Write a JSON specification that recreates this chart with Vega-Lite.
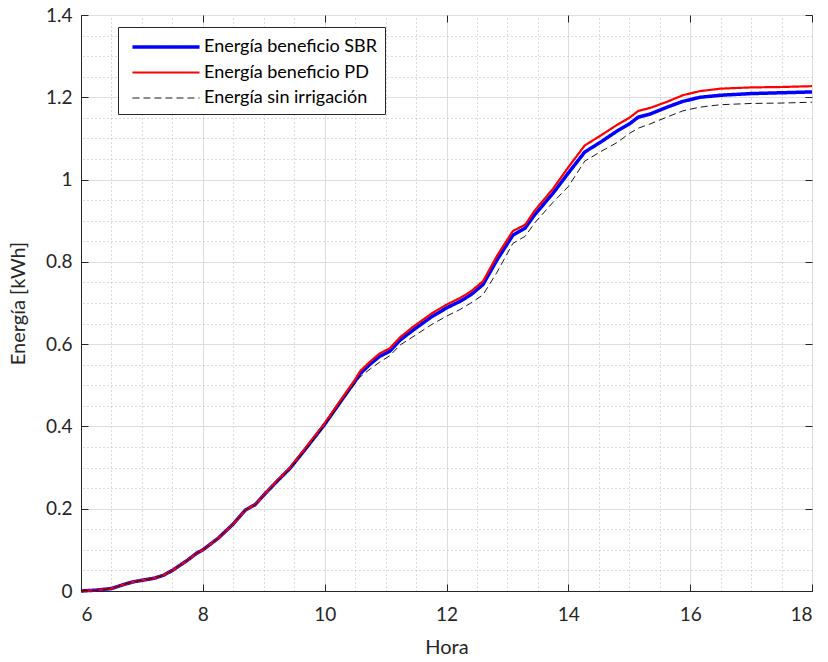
{
  "$schema": "https://vega.github.io/schema/vega-lite/v6.json",
  "autosize": {"type": "none"},
  "width": 731,
  "height": 576,
  "padding": {"left": 81, "top": 15, "right": 16, "bottom": 71},
  "background": "white",
  "config": {
    "font": "Lato",
    "view": {"stroke": "#262626", "strokeWidth": 1},
    "axis": {"labelFont": "Lato", "titleFont": "Lato", "labelColor": "#262626", "titleColor": "#262626", "domainColor": "#262626", "tickColor": "#262626", "labelFontSize": 19, "titleFontSize": 20, "titleFontWeight": "normal"}
  },
  "data": {"values": [
    {"h": 6.0, "Energía beneficio SBR": 0.0, "Energía beneficio PD": 0.0, "Energía sin irrigación": 0.0},
    {"h": 6.25, "Energía beneficio SBR": 0.002, "Energía beneficio PD": 0.002, "Energía sin irrigación": 0.002},
    {"h": 6.5, "Energía beneficio SBR": 0.006, "Energía beneficio PD": 0.006, "Energía sin irrigación": 0.006},
    {"h": 6.75, "Energía beneficio SBR": 0.018, "Energía beneficio PD": 0.018, "Energía sin irrigación": 0.018},
    {"h": 6.85, "Energía beneficio SBR": 0.022, "Energía beneficio PD": 0.022, "Energía sin irrigación": 0.022},
    {"h": 7.0, "Energía beneficio SBR": 0.026, "Energía beneficio PD": 0.026, "Energía sin irrigación": 0.026},
    {"h": 7.2, "Energía beneficio SBR": 0.031, "Energía beneficio PD": 0.031, "Energía sin irrigación": 0.031},
    {"h": 7.35, "Energía beneficio SBR": 0.038, "Energía beneficio PD": 0.038, "Energía sin irrigación": 0.038},
    {"h": 7.5, "Energía beneficio SBR": 0.05, "Energía beneficio PD": 0.05, "Energía sin irrigación": 0.05},
    {"h": 7.75, "Energía beneficio SBR": 0.075, "Energía beneficio PD": 0.075, "Energía sin irrigación": 0.075},
    {"h": 7.9, "Energía beneficio SBR": 0.092, "Energía beneficio PD": 0.092, "Energía sin irrigación": 0.092},
    {"h": 8.0, "Energía beneficio SBR": 0.1, "Energía beneficio PD": 0.1, "Energía sin irrigación": 0.1},
    {"h": 8.25, "Energía beneficio SBR": 0.128, "Energía beneficio PD": 0.128, "Energía sin irrigación": 0.128},
    {"h": 8.5, "Energía beneficio SBR": 0.163, "Energía beneficio PD": 0.163, "Energía sin irrigación": 0.163},
    {"h": 8.7, "Energía beneficio SBR": 0.197, "Energía beneficio PD": 0.197, "Energía sin irrigación": 0.197},
    {"h": 8.86, "Energía beneficio SBR": 0.21, "Energía beneficio PD": 0.21, "Energía sin irrigación": 0.209},
    {"h": 9.0, "Energía beneficio SBR": 0.233, "Energía beneficio PD": 0.233, "Energía sin irrigación": 0.232},
    {"h": 9.2, "Energía beneficio SBR": 0.264, "Energía beneficio PD": 0.265, "Energía sin irrigación": 0.263},
    {"h": 9.43, "Energía beneficio SBR": 0.298, "Energía beneficio PD": 0.299, "Energía sin irrigación": 0.297},
    {"h": 9.7, "Energía beneficio SBR": 0.348, "Energía beneficio PD": 0.35, "Energía sin irrigación": 0.346},
    {"h": 10.0, "Energía beneficio SBR": 0.405, "Energía beneficio PD": 0.407, "Energía sin irrigación": 0.403},
    {"h": 10.25, "Energía beneficio SBR": 0.458, "Energía beneficio PD": 0.461, "Energía sin irrigación": 0.455},
    {"h": 10.5, "Energía beneficio SBR": 0.51, "Energía beneficio PD": 0.514, "Energía sin irrigación": 0.505},
    {"h": 10.58, "Energía beneficio SBR": 0.528, "Energía beneficio PD": 0.534, "Energía sin irrigación": 0.52},
    {"h": 10.75, "Energía beneficio SBR": 0.552, "Energía beneficio PD": 0.558, "Energía sin irrigación": 0.54},
    {"h": 10.9, "Energía beneficio SBR": 0.57, "Energía beneficio PD": 0.577, "Energía sin irrigación": 0.556},
    {"h": 11.07, "Energía beneficio SBR": 0.583, "Energía beneficio PD": 0.59, "Energía sin irrigación": 0.572},
    {"h": 11.24, "Energía beneficio SBR": 0.61, "Energía beneficio PD": 0.617, "Energía sin irrigación": 0.598},
    {"h": 11.45, "Energía beneficio SBR": 0.634, "Energía beneficio PD": 0.642, "Energía sin irrigación": 0.618},
    {"h": 11.76, "Energía beneficio SBR": 0.667, "Energía beneficio PD": 0.675, "Energía sin irrigación": 0.648},
    {"h": 12.0, "Energía beneficio SBR": 0.688, "Energía beneficio PD": 0.696, "Energía sin irrigación": 0.668},
    {"h": 12.22, "Energía beneficio SBR": 0.704, "Energía beneficio PD": 0.712, "Energía sin irrigación": 0.684},
    {"h": 12.4, "Energía beneficio SBR": 0.72, "Energía beneficio PD": 0.728, "Energía sin irrigación": 0.7},
    {"h": 12.6, "Energía beneficio SBR": 0.745, "Energía beneficio PD": 0.753, "Energía sin irrigación": 0.72},
    {"h": 12.83, "Energía beneficio SBR": 0.805, "Energía beneficio PD": 0.815, "Energía sin irrigación": 0.775},
    {"h": 13.09, "Energía beneficio SBR": 0.865, "Energía beneficio PD": 0.875, "Energía sin irrigación": 0.845},
    {"h": 13.29, "Energía beneficio SBR": 0.882, "Energía beneficio PD": 0.89, "Energía sin irrigación": 0.862},
    {"h": 13.45, "Energía beneficio SBR": 0.915, "Energía beneficio PD": 0.925, "Energía sin irrigación": 0.895},
    {"h": 13.75, "Energía beneficio SBR": 0.967, "Energía beneficio PD": 0.978, "Energía sin irrigación": 0.945},
    {"h": 14.0, "Energía beneficio SBR": 1.016, "Energía beneficio PD": 1.03, "Energía sin irrigación": 0.983},
    {"h": 14.27, "Energía beneficio SBR": 1.067, "Energía beneficio PD": 1.083, "Energía sin irrigación": 1.045},
    {"h": 14.52, "Energía beneficio SBR": 1.09, "Energía beneficio PD": 1.106, "Energía sin irrigación": 1.067},
    {"h": 14.8, "Energía beneficio SBR": 1.118, "Energía beneficio PD": 1.133, "Energía sin irrigación": 1.09},
    {"h": 15.0, "Energía beneficio SBR": 1.135, "Energía beneficio PD": 1.15, "Energía sin irrigación": 1.112},
    {"h": 15.15, "Energía beneficio SBR": 1.152, "Energía beneficio PD": 1.167, "Energía sin irrigación": 1.125},
    {"h": 15.34, "Energía beneficio SBR": 1.159, "Energía beneficio PD": 1.174, "Energía sin irrigación": 1.135},
    {"h": 15.62, "Energía beneficio SBR": 1.176, "Energía beneficio PD": 1.189, "Energía sin irrigación": 1.152},
    {"h": 15.88, "Energía beneficio SBR": 1.19, "Energía beneficio PD": 1.205, "Energía sin irrigación": 1.167},
    {"h": 16.16, "Energía beneficio SBR": 1.2, "Energía beneficio PD": 1.215, "Energía sin irrigación": 1.176},
    {"h": 16.5, "Energía beneficio SBR": 1.205, "Energía beneficio PD": 1.221, "Energía sin irrigación": 1.182},
    {"h": 17.0, "Energía beneficio SBR": 1.209, "Energía beneficio PD": 1.224, "Energía sin irrigación": 1.185},
    {"h": 17.5, "Energía beneficio SBR": 1.211, "Energía beneficio PD": 1.225, "Energía sin irrigación": 1.186},
    {"h": 18.0, "Energía beneficio SBR": 1.213, "Energía beneficio PD": 1.227, "Energía sin irrigación": 1.188}
  ]},
  "transform": [
    {"fold": ["Energía beneficio SBR", "Energía beneficio PD", "Energía sin irrigación"], "as": ["serie", "e"]}
  ],
  "layer": [
    {
      "mark": {"type": "rule", "opacity": 0},
      "encoding": {
        "x": {"field": "h", "type": "quantitative", "scale": {"domain": [6, 18], "nice": false},
          "axis": {"orient": "top", "values": [6.5, 7, 7.5, 8.5, 9, 9.5, 10.5, 11, 11.5, 12.5, 13, 13.5, 14.5, 15, 15.5, 16.5, 17, 17.5], "labels": false, "ticks": false, "domain": false, "title": null, "grid": true, "gridColor": "#b8b8b8", "gridDash": [1, 3], "gridWidth": 1}},
        "y": {"field": "e", "type": "quantitative", "scale": {"domain": [0, 1.4], "nice": false},
          "axis": {"orient": "right", "values": [0.05, 0.1, 0.15, 0.25, 0.3, 0.35, 0.45, 0.5, 0.55, 0.65, 0.7, 0.75, 0.85, 0.9, 0.95, 1.05, 1.1, 1.15, 1.25, 1.3, 1.35], "labels": false, "ticks": false, "domain": false, "title": null, "grid": true, "gridColor": "#b8b8b8", "gridDash": [1, 3], "gridWidth": 1}}
      }
    },
    {
      "mark": {"type": "rule", "opacity": 0},
      "encoding": {
        "x": {"field": "h", "type": "quantitative",
          "axis": {"orient": "bottom", "values": [6, 8, 10, 12, 14, 16, 18], "title": "Hora", "titlePadding": 13, "labelPadding": 21, "tickSize": -7, "grid": true, "gridColor": "#dedede", "gridWidth": 1, "domainWidth": 1}},
        "y": {"field": "e", "type": "quantitative",
          "axis": {"orient": "left", "values": [0, 0.2, 0.4, 0.6, 0.8, 1, 1.2, 1.4], "format": "~g", "title": "Energía [kWh]", "titlePadding": 17, "labelPadding": 16, "tickSize": -7, "grid": true, "gridColor": "#dedede", "gridWidth": 1}}
      }
    },
    {
      "mark": {"type": "line", "strokeCap": "butt", "strokeJoin": "round"},
      "encoding": {
        "x": {"field": "h", "type": "quantitative", "axis": null},
        "y": {"field": "e", "type": "quantitative", "axis": null},
        "detail": {"field": "serie"},
        "order": {"field": "h"},
        "color": {"field": "serie", "type": "nominal",
          "scale": {"domain": ["Energía beneficio SBR", "Energía beneficio PD", "Energía sin irrigación"], "range": ["#0000ff", "#ff0000", "#000000"]},
          "legend": {"title": null, "orient": "none", "legendX": 37, "legendY": 12, "symbolType": "M-3,0H3", "symbolSize": 500, "symbolOffset": 28, "labelFontSize": 18, "labelFont": "Lato", "labelColor": "#000000", "labelLimit": 0, "strokeColor": "#262626", "fillColor": "white", "padding": 7, "labelOffset": 25, "rowPadding": 4}},
        "strokeWidth": {"field": "serie", "type": "nominal",
          "scale": {"domain": ["Energía beneficio SBR", "Energía beneficio PD", "Energía sin irrigación"], "range": [3.5, 0.9, 1.2]}},
        "strokeDash": {"field": "serie", "type": "nominal",
          "scale": {"domain": ["Energía beneficio SBR", "Energía beneficio PD", "Energía sin irrigación"], "range": [[1, 0], [1, 0], [7, 4]]}}
      }
    },
    {
      "mark": {"type": "rule", "opacity": 0},
      "encoding": {
        "x": {"field": "h", "type": "quantitative",
          "axis": {"orient": "top", "values": [6, 8, 10, 12, 14, 16, 18], "labels": false, "title": null, "tickSize": -7, "grid": false, "domain": false}},
        "y": {"field": "e", "type": "quantitative",
          "axis": {"orient": "right", "values": [0, 0.2, 0.4, 0.6, 0.8, 1, 1.2, 1.4], "labels": false, "title": null, "tickSize": -7, "grid": false, "domain": false}}
      }
    }
  ],
  "resolve": {"axis": {"x": "independent", "y": "independent"}}
}
